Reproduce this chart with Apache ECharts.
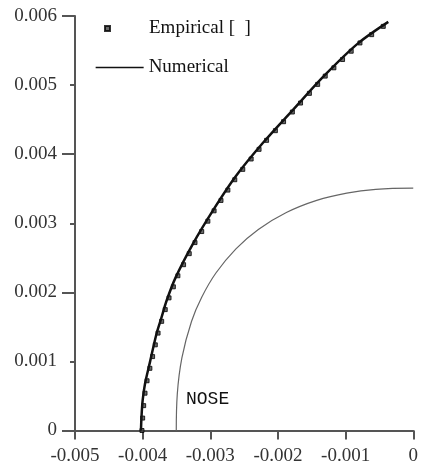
<!DOCTYPE html>
<html>
<head>
<meta charset="utf-8">
<script src="https://cdn.jsdelivr.net/npm/echarts@6/dist/echarts.min.js"></script>
<style>
  html, body { margin: 0; padding: 0; background: #fff; }
  #chart { width: 421px; height: 470px; }
</style>
</head>
<body>
<div id="chart"></div>
<script>
// Shock stand-off profile: numerical solution, empirical fit and body nose contour
const xTicks = [-0.005, -0.004, -0.003, -0.002, -0.001, 0];
const yTicks = [0, 0.001, 0.002, 0.003, 0.004, 0.005, 0.006];

// Numerical shock shape (x, y)
const numericalX = [-0.004025, -0.004016, -0.004, -0.003965, -0.003892, -0.003795, -0.003722, -0.003649,
  -0.003515, -0.003259, -0.00296, -0.002629, -0.002224, -0.001771, -0.001319, -0.000812, -0.000369];
const numericalY = [0, 0.000217, 0.000435, 0.000677, 0.00099, 0.0014, 0.001633, 0.001871,
  0.002209, 0.002698, 0.003186, 0.003673, 0.004161, 0.004649, 0.005132, 0.005607, 0.005915];

// Empirical correlation points (x, y)
const empiricalX = [-0.00401, -0.004, -0.003985, -0.003965, -0.003935, -0.003893, -0.003853, -0.003813,
  -0.003772, -0.003719, -0.003666, -0.00361, -0.003546, -0.003479, -0.003395, -0.003311, -0.003226,
  -0.003127, -0.003036, -0.002944, -0.002842, -0.00274, -0.002638, -0.00252, -0.002396, -0.002279,
  -0.002168, -0.002038, -0.001917, -0.001787, -0.001666, -0.001535, -0.001413, -0.001301, -0.001173,
  -0.001045, -0.000917, -0.000788, -0.000615, -0.000443];
const empiricalY = [0, 0.00018, 0.00036, 0.00054, 0.00072, 0.0009, 0.00107, 0.00124,
  0.00141, 0.00158, 0.00175, 0.00192, 0.00208, 0.00224, 0.0024, 0.00256, 0.00272,
  0.00288, 0.00303, 0.00318, 0.00333, 0.00348, 0.00363, 0.00378, 0.00393, 0.00407,
  0.0042, 0.00434, 0.00447, 0.00461, 0.00474, 0.00488, 0.00501, 0.00513, 0.00525,
  0.00537, 0.00549, 0.00561, 0.00573, 0.00585];

// Body nose contour (x, y)
const noseX = [-0.003503, -0.003488, -0.00342, -0.003278, -0.003127, -0.002917, -0.002621,
  -0.00229, -0.001876, -0.001427, -0.000983, -0.000554, 0];
const noseY = [0, 0.000526, 0.001052, 0.001578, 0.001929, 0.00228, 0.00263,
  0.002911, 0.003156, 0.003332, 0.003437, 0.00349, 0.003507];

const zip = (xs, ys) => xs.map((x, i) => [x, ys[i]]);

const serif = '"Liberation Serif", "Times New Roman", serif';
const axisColor = '#555';
const labelStyle = { fontFamily: serif, fontSize: 19, color: '#333' };

const chart = echarts.init(document.getElementById('chart'), null, { renderer: 'canvas' });
chart.setOption({
  animation: false,
  backgroundColor: '#fff',
  grid: { left: 75, right: 6, top: 16, bottom: 39.5, containLabel: false },
  xAxis: {
    type: 'value',
    min: xTicks[0], max: xTicks[xTicks.length - 1], interval: 0.001,
    axisLine: { show: true, onZero: false, lineStyle: { color: axisColor, width: 2 } },
    axisTick: { show: true, inside: false, length: 9, lineStyle: { color: axisColor, width: 2 } },
    axisLabel: { ...labelStyle, margin: 16 },
    splitLine: { show: false }
  },
  yAxis: [
    {
      type: 'value', position: 'left',
      min: yTicks[0], max: yTicks[yTicks.length - 1], interval: 0.001,
      axisLine: { show: true, onZero: false, lineStyle: { color: axisColor, width: 2 } },
      axisTick: { show: true, length: 5, lineStyle: { color: axisColor, width: 2 } },
      axisLabel: { ...labelStyle, margin: 18 },
      splitLine: { show: false }
    },
    {
      // longer ticks every other step
      type: 'value', position: 'left',
      min: yTicks[0], max: yTicks[yTicks.length - 1], interval: 0.002,
      axisLine: { show: false, onZero: false },
      axisTick: { show: true, length: 13, lineStyle: { color: axisColor, width: 2 } },
      axisLabel: { show: false },
      splitLine: { show: false }
    }
  ],
  legend: [
    {
      data: ['Empirical [  ]'],
      left: 104, top: 19, padding: 0,
      itemWidth: 5, itemHeight: 5,
      textStyle: { fontFamily: serif, fontSize: 19, color: '#111', padding: [0, 0, 0, 34] }
    },
    {
      data: ['Numerical'],
      left: 95, top: 58, padding: 0,
      itemWidth: 48, itemHeight: 10,
      lineStyle: { width: 1.3 },
      itemStyle: { color: 'rgba(0,0,0,0)', borderWidth: 0 },
      textStyle: { fontFamily: serif, fontSize: 19, color: '#111' }
    }
  ],
  graphic: [
    {
      type: 'text', left: 186, top: 390,
      style: { text: 'NOSE', font: '18px "Liberation Mono", "Courier New", monospace', fill: '#111' }
    }
  ],
  series: [
    {
      name: 'NOSE',
      type: 'line',
      data: zip(noseX, noseY),
      smooth: 0.4,
      symbol: 'none',
      lineStyle: { color: '#666', width: 1.2 },
      z: 2
    },
    {
      name: 'Empirical [  ]',
      type: 'scatter',
      data: zip(empiricalX, empiricalY),
      symbol: 'rect',
      symbolSize: 4,
      itemStyle: { color: '#444', borderColor: '#000', borderWidth: 1 },
      z: 3
    },
    {
      name: 'Numerical',
      type: 'line',
      data: zip(numericalX, numericalY),
      smooth: 0.3,
      symbol: 'none',
      lineStyle: { color: '#111', width: 2.5 },
      itemStyle: { color: '#111' },
      z: 4
    }
  ]
});
</script>
</body>
</html>
